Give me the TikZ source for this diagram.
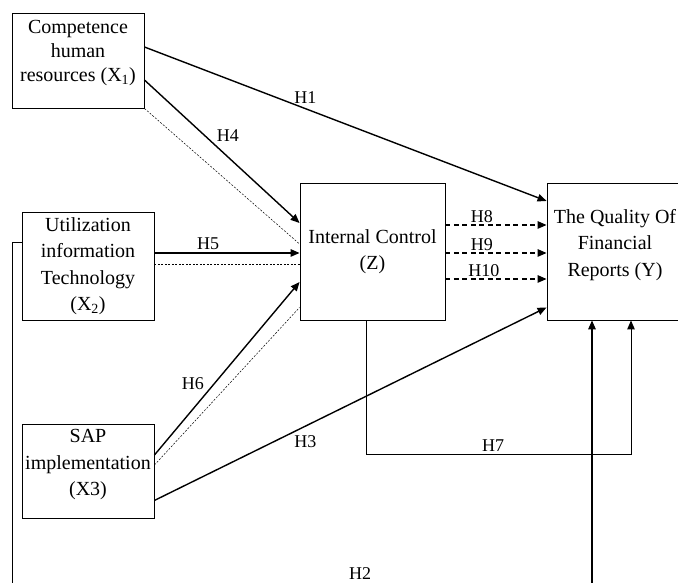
\documentclass[tikz,border=0pt]{standalone}
\usepackage{fontspec}
\setmainfont{Liberation Serif}
\usetikzlibrary{arrows.meta}

\begin{document}
\begin{tikzpicture}[x=1pt,y=1pt,
		var/.style={shape=rectangle,draw=black,line width=0.9pt,inner sep=0pt,align=center,font=\fontsize{20}{26.5}\selectfont},
		hyp/.style={-{Triangle[length=9pt,width=7.5pt]},line width=1.4pt},
		hypdash/.style={hyp,dash pattern=on 5pt off 3.5pt},
		link/.style={line width=0.5pt,dash pattern=on 2pt off 1.5pt},
		lab/.style={font=\fontsize{18}{20}\selectfont,inner sep=2pt}]
			\useasboundingbox (0,0) rectangle (678,583);
			\node[var, font=\fontsize{20}{24}\selectfont, minimum width=132pt, minimum height=95pt, text depth=20pt] (x1) at (78,522.5) {Competence\\human\\resources (X\textsubscript{1})};
			\node[var, minimum width=132pt, minimum height=108pt] (x2) at (88,317) {Utilization\\information\\Technology\\(X\textsubscript{2})};
			\node[var, minimum width=132pt, minimum height=94pt, text depth=17pt] (x3) at (88,112) {SAP\\implementation\\(X3)};
			\node[var, minimum width=145pt, minimum height=137pt] (z) at (372.5,331.5) {Internal Control\\(Z)};
			\node[var, minimum width=136pt, minimum height=137pt, text depth=18pt] (y) at (615,331.5) {The Quality Of\\Financial\\Reports (Y)};

			%% lines
			\draw[hyp] ([yshift=13.5pt]x1.east) -- ([yshift=50.5pt]y.west) node[lab, pos=0.4, above=2pt] {H1};
			\draw[hyp] ([yshift=-19.5pt]x1.east) -- ([yshift=28.5pt]z.west) node[lab, pos=0.45, above right=0pt] {H4};
			\draw[link] (x1.south east) -- ([yshift=7.5pt]z.west);

			\coordinate (h5) at ([yshift=13pt]x2.east);
			\coordinate (l2) at ([yshift=2pt]x2.east);
			\draw[hyp] (h5) -- (h5 -| z.west) node[lab, pos=0.37, above=1pt] {H5};
			\draw[link] (l2) -- (l2 -| z.west);

			\draw[hyp] ([yshift=16pt]x3.east) -- ([yshift=-30.5pt]z.west) node[lab, pos=0.36, above left=0pt] {H6};
			\draw[link] ([yshift=6pt]x3.east) -- ([yshift=13pt]z.south west);
			\draw[hyp] ([yshift=18pt]x3.south east) -- ([yshift=13pt]y.south west) node[lab, pos=0.35, below right=0pt] {H3};

			\coordinate (h8) at ([yshift=26.5pt]z.east);
			\coordinate (h9) at ([yshift=-1.5pt]z.east);
			\coordinate (h10) at ([yshift=-27.5pt]z.east);
			\draw[hypdash] (h8) -- (h8 -| y.west) node[lab, pos=0.36, above=0pt] {H8};
			\draw[hypdash] (h9) -- (h9 -| y.west) node[lab, pos=0.36, above=0pt] {H9};
			\draw[hypdash] (h10) -- (h10 -| y.west) node[lab, pos=0.38, above=0pt] {H10};

			\draw[hyp, line width=1pt] ([xshift=-6.5pt]z.south) -- ++(0,-134) -| ([xshift=16pt]y.south) node[lab, pos=0.24, above=0pt] {H7};

			\coordinate (h2l) at (12,0);
			\coordinate (h2r) at (592,0);
			\draw[line width=0.8pt] ([yshift=24pt]x2.west) -| (h2l);
			\draw[hyp] (h2r) -- (h2r |- y.south);
			\path (h2l) -- (h2r) node[lab, pos=0.6, above=1pt] {H2};
		\end{tikzpicture}
\end{document}
